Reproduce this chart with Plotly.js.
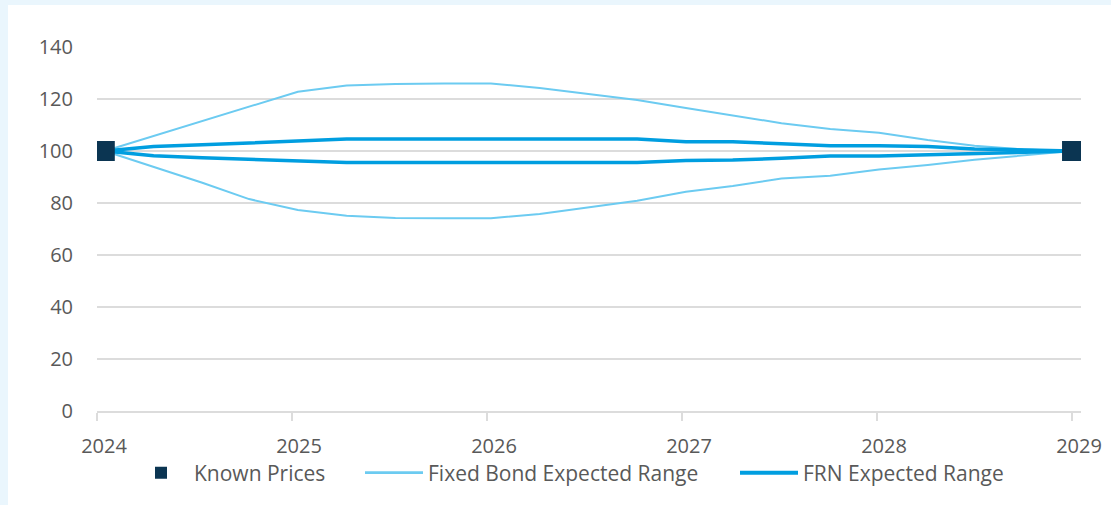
<!DOCTYPE html>
<html>
<head>
<meta charset="utf-8">
<script src="https://cdn.plot.ly/plotly-3.0.1.min.js"></script>
<style>
  html, body { margin: 0; padding: 0; background: #eaf6fd; width: 1111px; height: 505px; overflow: hidden; }
  #chart { position: absolute; left: 8px; top: 5px; width: 1103px; height: 500px; background: #ffffff; }
</style>
</head>
<body>
<div id="chart"></div>
<script>
// Quarterly observation points (decimal years)
const dates = [2024.04, 2024.29, 2024.54, 2024.78, 2025.03, 2025.28, 2025.53, 2025.78, 2026.02, 2026.27,
               2026.52, 2026.77, 2027.02, 2027.26, 2027.51, 2027.76, 2028.01, 2028.26, 2028.50, 2028.75, 2029.00];

const fixedUpper = [100, 105.7, 111.4, 117.1, 122.8, 125.2, 125.8, 126.0, 126.0, 124.2, 122.0, 119.6,
                    116.5, 113.8, 110.7, 108.5, 107.0, 104.2, 102.0, 100.6, 100];
const fixedLower = [100, 93.8, 87.8, 81.5, 77.3, 75.1, 74.2, 74.1, 74.1, 75.8, 78.3, 80.9,
                    84.3, 86.5, 89.4, 90.5, 92.9, 94.6, 96.6, 98.4, 100];
const frnUpper = [100, 101.7, 102.4, 103.2, 104.0, 104.6, 104.6, 104.6, 104.6, 104.6, 104.6, 104.6,
                  103.6, 103.6, 102.8, 102.0, 102.0, 101.7, 100.8, 100.3, 100];
const frnLower = [100, 98.2, 97.4, 96.8, 96.1, 95.6, 95.6, 95.6, 95.6, 95.6, 95.6, 95.6,
                  96.3, 96.5, 97.2, 98.1, 98.1, 98.6, 99.2, 99.7, 100];

const knownDates = [2024.04, 2029.00];
const knownPrices = [100, 100];

const yearTicks = [2024, 2025, 2026, 2027, 2028, 2029];
const yearLabels = ['2024', '2025', '2026', '2027', '2028', '2029'];
const yTicks = [0, 20, 40, 60, 80, 100, 120, 140];

const names = ['Known Prices', 'Fixed Bond Expected Range', 'FRN Expected Range'];

const cFixed = '#6ccbf1';
const cFrn = '#009ee0';
const cKnown = '#0b3552';
const textColor = '#595959';
const gridColor = '#dcdcdc';
const font = 'Open Sans, sans-serif';

const traces = [
  { x: dates, y: fixedUpper, mode: 'lines', line: {color: cFixed, width: 2}, name: names[1], showlegend: false, hoverinfo: 'skip' },
  { x: dates, y: fixedLower, mode: 'lines', line: {color: cFixed, width: 2}, name: names[1], showlegend: false, hoverinfo: 'skip' },
  { x: dates, y: frnUpper, mode: 'lines', line: {color: cFrn, width: 3.5}, name: names[2], showlegend: false, hoverinfo: 'skip' },
  { x: dates, y: frnLower, mode: 'lines', line: {color: cFrn, width: 3.5}, name: names[2], showlegend: false, hoverinfo: 'skip' },
  { x: knownDates, y: knownPrices, mode: 'markers', marker: {symbol: 'square', size: 20, color: cKnown, line: {width: 0}}, name: names[0], showlegend: false, hoverinfo: 'skip' },
  // legend entries
  { x: [null], y: [null], mode: 'markers', marker: {symbol: 'square', size: 12, color: cKnown, line: {width: 0}}, name: names[0], legend: 'legend' },
  { x: [null], y: [null], mode: 'lines', line: {color: cFixed, width: 2.6}, name: names[1], legend: 'legend2' },
  { x: [null], y: [null], mode: 'lines', line: {color: cFrn, width: 4}, name: names[2], legend: 'legend3' }
];

const legendFont = {family: font, size: 21, color: textColor};
function legendAt(xpx, iw) {
  return {
    orientation: 'h', xref: 'container', yref: 'container',
    x: xpx / 1103, xanchor: 'left', y: 0.064, yanchor: 'middle',
    font: legendFont, itemwidth: iw, bgcolor: 'rgba(0,0,0,0)', borderwidth: 0
  };
}

const layout = {
  width: 1103, height: 500,
  paper_bgcolor: '#ffffff', plot_bgcolor: '#ffffff',
  margin: {l: 89, r: 30, t: 42, b: 94},
  showlegend: true,
  font: {family: font, size: 20, color: textColor},
  xaxis: {
    range: [2024, 2029.046],
    tickmode: 'array', tickvals: yearTicks, ticktext: yearLabels,
    showgrid: false, zeroline: false,
    showline: true, linecolor: gridColor, linewidth: 1.5,
    ticks: 'outside', ticklen: 8, tickcolor: gridColor, tickwidth: 1.5,
    ticklabelshift: 7, ticklabelstandoff: 8,
    tickfont: {family: font, size: 20, color: textColor}
  },
  yaxis: {
    range: [0, 140],
    tickmode: 'array', tickvals: yTicks,
    showgrid: true, gridcolor: gridColor, gridwidth: 1.5,
    zeroline: false, showline: false, ticks: '',
    ticklabelstandoff: 23,
    tickfont: {family: font, size: 20, color: textColor}
  },
  legend: legendAt(120, 56),
  legend2: legendAt(352, 58),
  legend3: legendAt(727, 58)
};

Plotly.newPlot('chart', traces, layout, {displayModeBar: false, staticPlot: true});
</script>
</body>
</html>
